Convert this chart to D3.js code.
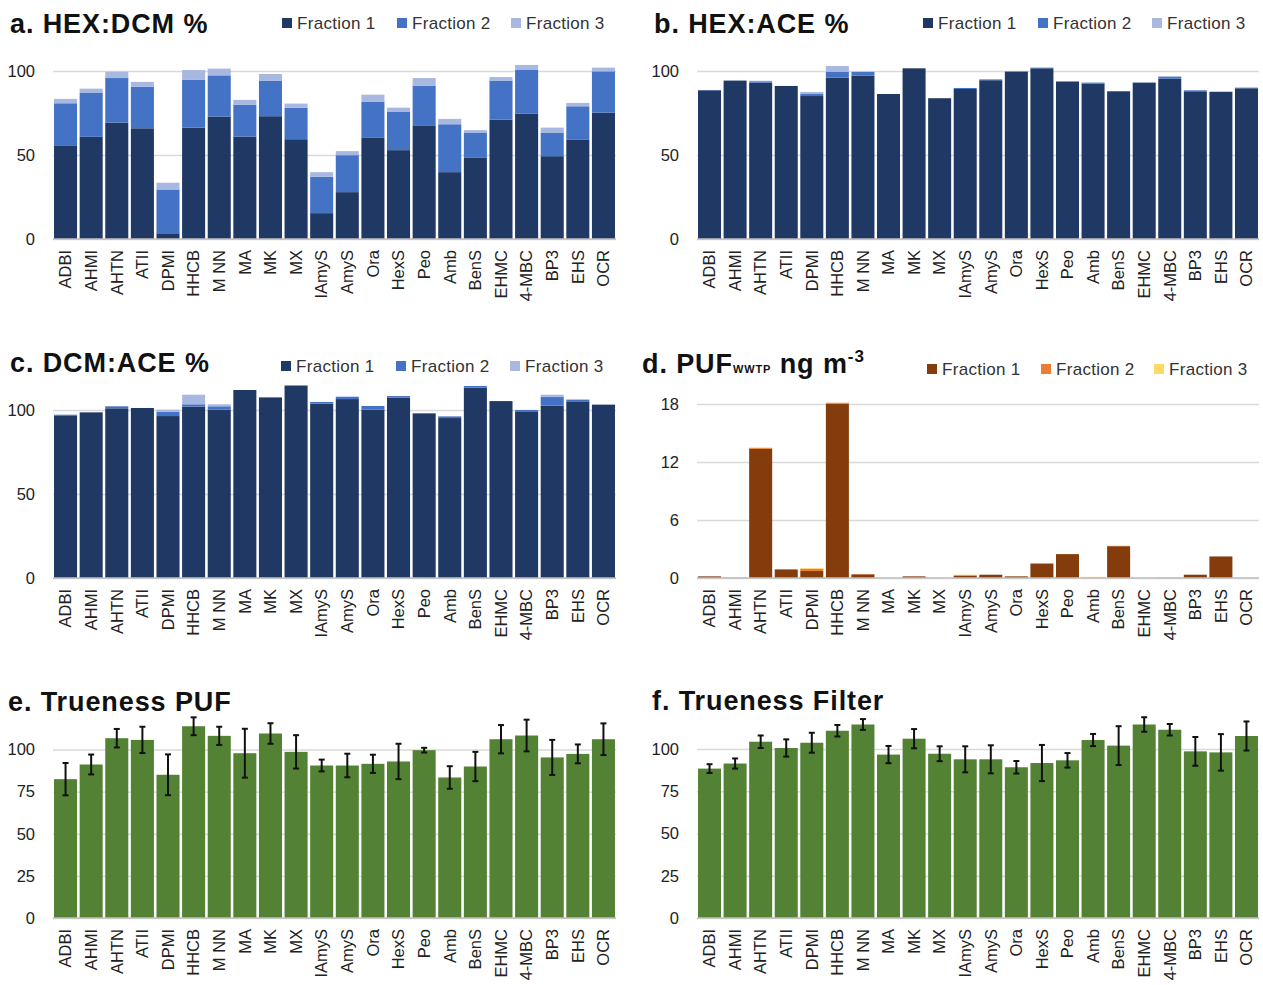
<!DOCTYPE html>
<html><head><meta charset="utf-8">
<script src="https://cdn.jsdelivr.net/npm/d3@7"></script>
<style>
body{margin:0;background:#fff;}
svg{display:block;font-family:"Liberation Sans",Arial,sans-serif;}
</style></head>
<body><svg id="chart" width="1263" height="985"></svg>
<script>
const categories = ["ADBI","AHMI","AHTN","ATII","DPMI","HHCB","M NN","MA","MK","MX","IAmyS","AmyS","Ora","HexS","Peo","Amb","BenS","EHMC","4-MBC","BP3","EHS","OCR"];
const fractionNames = ["Fraction 1","Fraction 2","Fraction 3"];

// a. HEX:DCM %
const hexDcmF1 = [55.4,60.8,69.3,65.9,3.4,66.3,72.9,61.0,73.1,59.4,15.4,27.9,60.2,52.9,67.3,39.8,48.3,71.1,74.7,49.3,59.0,75.2];
const hexDcmF2 = [25.4,26.1,26.5,24.8,26.1,28.6,24.5,19.0,21.2,18.8,21.6,22.0,21.6,22.7,24.0,28.5,15.1,23.2,25.9,14.1,20.0,24.6];
const hexDcmF3 = [2.6,2.6,3.8,2.8,4.0,5.7,4.0,2.8,3.9,2.4,2.8,2.4,4.1,2.6,4.5,3.2,1.4,2.1,3.0,2.9,2.0,2.2];

// b. HEX:ACE %
const hexAceF1 = [88.5,94.3,93.1,91.1,85.1,96.0,97.2,86.3,101.6,83.8,89.3,94.5,99.4,101.6,93.5,92.5,87.5,93.1,95.4,87.5,87.5,89.7];
const hexAceF2 = [0.2,0.0,0.8,0.0,1.2,3.6,2.2,0.0,0.0,0.0,0.6,0.5,0.4,0.4,0.4,0.6,0.6,0.0,1.2,1.0,0.2,0.4];
const hexAceF3 = [0.0,0.0,0.3,0.0,1.2,3.4,0.3,0.0,0.0,0.0,0.0,0.0,0.0,0.0,0.0,0.0,0.0,0.0,0.4,0.0,0.0,0.0];

// c. DCM:ACE %
const dcmAceF1 = [96.8,98.6,101.0,101.2,96.4,102.0,100.2,111.9,107.5,114.3,103.8,106.5,100.2,107.3,98.0,95.2,113.3,105.3,99.2,102.6,104.8,103.2];
const dcmAceF2 = [0.4,0.0,1.2,0.0,2.6,1.4,2.0,0.0,0.0,0.4,1.0,1.4,2.2,1.0,0.0,1.0,1.0,0.0,0.8,5.1,1.3,0.0];
const dcmAceF3 = [0.0,0.0,0.0,0.0,1.2,5.7,1.2,0.0,0.0,0.0,0.0,0.0,0.0,0.0,0.0,0.0,0.0,0.0,0.0,1.4,0.4,0.0];

// d. PUF WWTP ng m-3
const pufF1 = [0.17,0.02,13.37,0.89,0.72,18.03,0.38,0,0.17,0,0.24,0.34,0.17,1.47,2.47,0.02,3.29,0,0.02,0.34,2.23,0];
const pufF2 = [0,0.02,0.10,0,0.24,0.10,0.03,0,0,0,0.06,0,0,0.07,0,0.02,0.04,0,0.02,0,0,0];
const pufF3 = [0,0.06,0,0,0.07,0,0,0,0,0,0.04,0,0,0,0,0.08,0,0,0.06,0,0,0];

// e. Trueness PUF
const truenessPuf = [82.4,91.1,106.7,105.7,85.0,113.8,108.1,97.8,109.5,98.6,90.5,90.5,91.5,92.9,99.6,83.4,89.9,106.1,108.3,95.3,97.4,106.1];
const truenessPufErr = [9.6,5.9,5.5,7.8,12.1,5.3,5.4,14.5,6.1,9.9,3.5,7.0,5.4,10.5,1.4,6.7,8.7,8.4,9.4,10.4,5.6,9.4];

// f. Trueness Filter
const truenessFilter = [88.4,91.4,104.3,100.6,103.7,110.8,114.5,96.7,106.1,97.2,93.9,93.9,89.2,91.7,93.3,105.3,102.0,114.5,111.4,98.6,98.0,107.7];
const truenessFilterErr = [2.6,3.0,3.7,5.1,5.9,3.4,3.2,5.1,5.7,4.4,7.7,8.3,3.7,10.7,4.3,3.6,11.5,4.3,3.4,8.5,10.8,8.6];

const pctTicks = [0,50,100];
const pufTicks = [0,6,12,18];
const truenessTicks = [0,25,50,75,100];

const blueColors = ["#203864","#4472C4","#A9B8E0"];
const brownColors = ["#843C0C","#ED7D31","#FFD966"];
const greenColor = "#548235";

const svg = d3.select("#chart");

function drawPanel(p){
  const g = svg.append("g");
  const x = d3.scaleBand().domain(categories).range([p.x0,p.x1]).paddingInner(0.1).paddingOuter(0.04);
  const y = d3.scaleLinear().domain(p.domain).range([p.yBase,p.yTop]);
  const yAxis = d3.axisLeft(y).tickValues(p.ticks).tickSize(-(p.x1-p.x0)).tickPadding(18);
  const ga = g.append("g").attr("transform",`translate(${p.x0},0)`).call(yAxis);
  ga.select(".domain").remove();
  ga.selectAll(".tick line").attr("stroke","#d9d9d9").attr("stroke-width",1.3);
  ga.selectAll(".tick text").attr("font-size",16.5).attr("fill","#222").attr("font-family","Liberation Sans, Arial, sans-serif");
  if(p.series){
    const rows = categories.map((c,i)=>{const o={cat:c}; p.series.forEach((s,k)=>o[k]=s[i]); return o;});
    const stack = d3.stack().keys(p.series.map((s,k)=>k))(rows);
    stack.forEach((layer,k)=>{
      g.append("g").attr("fill",p.colors[k]).selectAll("rect").data(layer).join("rect")
        .attr("x",d=>x(d.data.cat)).attr("width",x.bandwidth())
        .attr("y",d=>y(d[1])).attr("height",d=>Math.max(0,y(d[0])-y(d[1])));
    });
  } else {
    g.append("g").attr("fill",p.color).selectAll("rect").data(p.values).join("rect")
      .attr("x",(d,i)=>x(categories[i])).attr("width",x.bandwidth())
      .attr("y",d=>y(d)).attr("height",d=>y(0)-y(d));
    const eb = g.append("g").attr("stroke","#111").attr("stroke-width",2);
    p.values.forEach((v,i)=>{
      const cx = x(categories[i])+x.bandwidth()/2, e=p.errors[i];
      eb.append("line").attr("x1",cx).attr("x2",cx).attr("y1",y(v+e)).attr("y2",y(v-e));
      eb.append("line").attr("x1",cx-3).attr("x2",cx+3).attr("y1",y(v+e)).attr("y2",y(v+e));
      eb.append("line").attr("x1",cx-3).attr("x2",cx+3).attr("y1",y(v-e)).attr("y2",y(v-e));
    });
  }
  g.append("line").attr("x1",p.x0).attr("x2",p.x1).attr("y1",y(0)).attr("y2",y(0)).attr("stroke","#bfbfbf").attr("stroke-width",1.5);
  const xAxis = d3.axisBottom(x).tickSize(0);
  const gx = g.append("g").attr("transform",`translate(0,${y(0)})`).call(xAxis);
  gx.select(".domain").remove();
  gx.selectAll(".tick text").attr("font-size",16.5).attr("fill","#222").attr("font-family","Liberation Sans, Arial, sans-serif")
    .attr("transform","rotate(-90)").attr("text-anchor","end").attr("x",-11).attr("y",0).attr("dy","0.35em");
  const t = svg.append("text").attr("x",p.tx).attr("y",p.ty).attr("font-size",27).attr("font-weight","bold")
    .attr("letter-spacing","0.9px").attr("fill","#111");
  if(p.titleParts){
    p.titleParts.forEach(tp=>{
      const s=t.append("tspan").text(tp.text);
      if(tp.size) s.attr("font-size",tp.size);
      if(tp.dy) s.attr("dy",tp.dy);
    });
  } else t.text(p.title);
  if(p.legendX){
    fractionNames.forEach((n,k)=>{
      svg.append("rect").attr("x",p.legendX[k]).attr("y",p.legendY-5).attr("width",10).attr("height",10).attr("fill",p.colors[k]);
      svg.append("text").attr("x",p.legendX[k]+15).attr("y",p.legendY).attr("dy","0.35em").attr("font-size",17)
        .attr("letter-spacing","0.3px").attr("fill","#333").text(n);
    });
  }
}

drawPanel({x0:53,x1:616,yBase:239,yTop:71,domain:[0,100],ticks:pctTicks,series:[hexDcmF1,hexDcmF2,hexDcmF3],colors:blueColors,title:"a. HEX:DCM %",tx:10,ty:33,legendX:[282,397,511],legendY:23});
drawPanel({x0:697,x1:1259,yBase:239,yTop:71,domain:[0,100],ticks:pctTicks,series:[hexAceF1,hexAceF2,hexAceF3],colors:blueColors,title:"b. HEX:ACE %",tx:654,ty:33,legendX:[923,1038,1152],legendY:23});
drawPanel({x0:53,x1:616,yBase:578,yTop:410,domain:[0,100],ticks:pctTicks,series:[dcmAceF1,dcmAceF2,dcmAceF3],colors:blueColors,title:"c. DCM:ACE %",tx:10,ty:372,legendX:[281,396,510],legendY:366});
drawPanel({x0:697,x1:1259,yBase:578,yTop:404,domain:[0,18],ticks:pufTicks,series:[pufF1,pufF2,pufF3],colors:brownColors,
  titleParts:[{text:"d. PUF"},{text:"WWTP",size:11},{text:" ng m",size:27},{text:"-3",size:17,dy:-11}],tx:642,ty:373,legendX:[927,1041,1154],legendY:369});
drawPanel({x0:53,x1:616,yBase:918,yTop:749.5,domain:[0,100],ticks:truenessTicks,values:truenessPuf,errors:truenessPufErr,color:greenColor,title:"e. Trueness PUF",tx:8,ty:711});
drawPanel({x0:697,x1:1259,yBase:918,yTop:749,domain:[0,100],ticks:truenessTicks,values:truenessFilter,errors:truenessFilterErr,color:greenColor,title:"f. Trueness Filter",tx:652,ty:710});
</script></body></html>
